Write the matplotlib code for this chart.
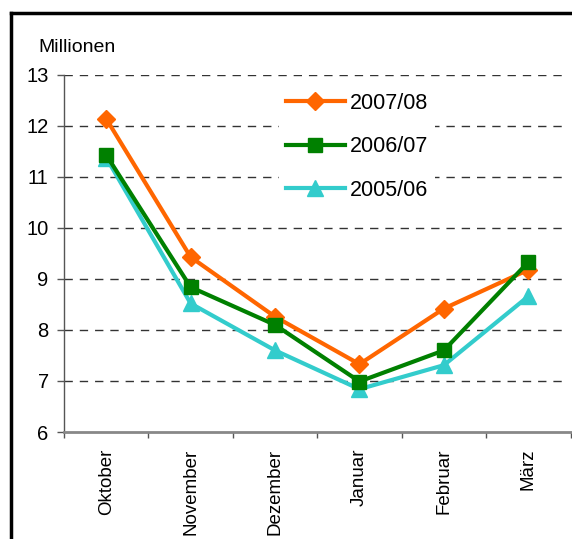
import matplotlib
matplotlib.use("Agg")
import matplotlib.pyplot as plt
from matplotlib.lines import Line2D
import numpy as np

plt.rcParams['font.family'] = ['Liberation Sans', 'DejaVu Sans']

months = ['Oktober', 'November', 'Dezember', 'Januar', 'Februar', 'März']
s0708 = [12.14, 9.43, 8.26, 7.33, 8.42, 9.18]
s0607 = [11.43, 8.84, 8.10, 6.99, 7.60, 9.33]
s0506 = [11.38, 8.52, 7.60, 6.84, 7.31, 8.66]

fig = plt.figure(figsize=(5.72, 5.39), dpi=100)
ax = fig.add_axes([0.1119, 0.1985, 0.8855, 0.6625])

x = np.arange(len(months))
ax.plot(x, s0708, color='#FF6600', lw=3, marker='D', ms=9, label='2007/08', zorder=3)
ax.plot(x, s0607, color='#008000', lw=3, marker='s', ms=10, label='2006/07', zorder=4)
ax.plot(x, s0506, color='#33CCCC', lw=3, marker='^', ms=11, label='2005/06', zorder=2)

ax.set_xlim(-0.5, len(months) - 0.5)
ax.set_ylim(6, 13)
ax.set_yticks(range(6, 14))
ax.set_xticks(x)
ax.set_xticklabels(months, rotation=90, fontsize=13.5)
ax.set_xticks(np.arange(len(months) + 1) - 0.5, minor=True)
ax.tick_params(axis='x', which='major', length=0, pad=12)
ax.tick_params(axis='x', which='minor', length=4, width=1, color='#555555')
ax.tick_params(axis='y', length=5, width=1, color='#555555', pad=6, labelsize=14.5)

for v in range(7, 14):
    ax.axhline(v, color='#333333', lw=1, ls=(0, (6, 5)), zorder=1, xmax=0.985)

for s in ['top', 'right']:
    ax.spines[s].set_visible(False)
ax.spines['left'].set_color('#555555')
ax.spines['left'].set_linewidth(1)
ax.spines['bottom'].set_color('#888888')
ax.spines['bottom'].set_linewidth(2)

leg = ax.legend(loc='upper left', bbox_to_anchor=(0.425, 0.968), borderaxespad=0,
                fontsize=15.5, handlelength=2.75, handletextpad=0.25,
                labelspacing=1.05, frameon=True, fancybox=False, borderpad=0.3)
leg.get_frame().set_facecolor('white')
leg.get_frame().set_edgecolor('none')
leg.get_frame().set_alpha(1)
leg.set_zorder(5)

fig.text(38 / 572, 1 - 47 / 539, 'Millionen', fontsize=14, va='center', ha='left')

# outer frame
fig.add_artist(Line2D([11 / 572, 11 / 572], [0, 1 - 13 / 539], transform=fig.transFigure,
                      color='black', lw=2.5))
fig.add_artist(Line2D([11 / 572, 1], [1 - 13 / 539, 1 - 13 / 539], transform=fig.transFigure,
                      color='black', lw=2.5))

fig.savefig('out.png', dpi=100)
